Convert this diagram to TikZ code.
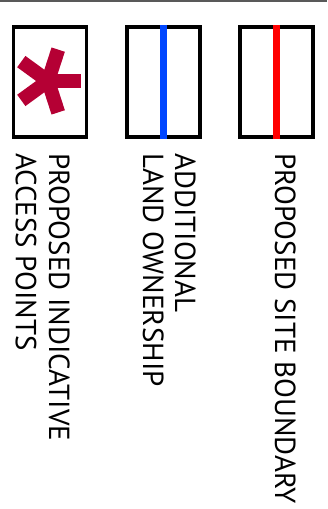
\documentclass[tikz,border=0pt]{standalone}
\usepackage{fontspec}
\setmainfont{PT Sans}
\definecolor{accessred}{RGB}{181,0,52}
\definecolor{ownerblue}{RGB}{0,70,255}
\definecolor{sitered}{RGB}{255,0,0}

\begin{document}
\begin{tikzpicture}
  [x=1pt,y=-1pt,
   legendbox/.style={draw,line width=3.6pt,minimum width=73pt,minimum height=110.4pt,inner sep=0pt},
   legendtext/.style={rotate=-90,anchor=base west,inner sep=0pt,font=\fontsize{29}{30}\selectfont}]
  \useasboundingbox (0,0) rectangle (327,509);
  \draw[line width=1.5pt,gray!70!black] (0,0.75) -- (327,0.75);

  \node[legendbox] (access) at (50,82) {};
  \node[legendbox] (owner) at (163.3,82) {};
  \node[legendbox] (site) at (276.7,82) {};

  \draw[line width=7pt,ownerblue] (owner.north) -- (owner.south);
  \draw[line width=7pt,sitered] (site.north) -- (site.south);

  \coordinate (star) at (48,81);
  \foreach \a in {0,72,...,288}
    \draw[line width=14pt,accessred] (star) -- ++(\a:33);

  \node[legendtext] (accessA) at (49,153) {PROPOSED INDICATIVE};
  \node[legendtext] (accessB) at (16,153) {ACCESS POINTS};
  \node[legendtext] (ownerA) at (175,153) {ADDITIONAL};
  \node[legendtext] (ownerB) at (143,153) {LAND OWNERSHIP};
  \node[legendtext] (siteA) at (275,153) {PROPOSED SITE BOUNDARY};

\end{tikzpicture}
\end{document}
